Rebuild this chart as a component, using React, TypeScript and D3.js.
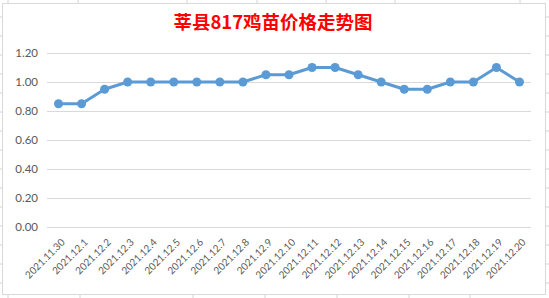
import React from "react";
import * as d3 from "d3";

const categories = [
  "2021.11.30", "2021.12.1", "2021.12.2", "2021.12.3", "2021.12.4", "2021.12.5", "2021.12.6",
  "2021.12.7", "2021.12.8", "2021.12.9", "2021.12.10", "2021.12.11", "2021.12.12", "2021.12.13",
  "2021.12.14", "2021.12.15", "2021.12.16", "2021.12.17", "2021.12.18", "2021.12.19", "2021.12.20",
];
const prices = [
  0.85, 0.85, 0.95, 1.0, 1.0, 1.0, 1.0, 1.0, 1.0, 1.05, 1.05, 1.1, 1.1, 1.05, 1.0, 0.95, 0.95,
  1.0, 1.0, 1.1, 1.0,
];
const yTicks = [0, 0.2, 0.4, 0.6, 0.8, 1.0, 1.2];
const title = "莘县817鸡苗价格走势图";

const W = 549;
const H = 298;
const plot = { left: 47, right: 531, top: 53, bottom: 227 };
const sheetRows = d3.range(17, 298, 19);
const sheetColsTop = [8, 78, 187, 257, 326, 395, 520];
const sheetColsBottom = [8, 80, 193, 265, 337, 409, 470];

export default function App() {
  const x = d3.scaleBand<string>().domain(categories).range([plot.left, plot.right]);
  const y = d3.scaleLinear().domain([0, 1.2]).range([plot.bottom, plot.top]);
  const line = d3
    .line<number>()
    .x((_, i) => (x(categories[i]) as number) + x.bandwidth() / 2)
    .y((d) => y(d));
  const numFont = "Lato, 'Liberation Sans', sans-serif";
  return (
    <svg
      width={W}
      height={H}
      style={{ position: "absolute", left: 0, top: 0, background: "#fff" }}
    >
      {sheetRows.map((r) => (
        <g key={"r" + r}>
          <line x1={0} x2={2} y1={r} y2={r} stroke="#d4d4d4" />
          <line x1={546} x2={549} y1={r} y2={r} stroke="#d4d4d4" />
        </g>
      ))}
      {sheetColsTop.map((c) => (
        <line key={"ct" + c} x1={c} x2={c} y1={0} y2={3} stroke="#d4d4d4" />
      ))}
      {sheetColsBottom.map((c) => (
        <line key={"cb" + c} x1={c} x2={c} y1={295} y2={298} stroke="#d4d4d4" />
      ))}
      <rect x={2.5} y={3.5} width={543} height={291} fill="#fff" stroke="#d9d9d9" />
      <text
        x={273}
        y={29}
        textAnchor="middle"
        fill="#ff0000"
        fontWeight="bold"
        fontSize={18.5}
        fontFamily="'Noto Sans CJK SC', sans-serif"
      >
        {title}
      </text>
      {yTicks.map((t) => (
        <g key={t}>
          <line
            x1={plot.left}
            x2={plot.right}
            y1={Math.round(y(t)) + 0.5}
            y2={Math.round(y(t)) + 0.5}
            stroke="#d9d9d9"
          />
          <text
            x={38}
            y={y(t) + 4}
            textAnchor="end"
            fontSize={11.5}
            fill="#595959"
            fontFamily={numFont}
          >
            {t.toFixed(2)}
          </text>
        </g>
      ))}
      {categories.map((c) => {
        const cx = (x(c) as number) + x.bandwidth() / 2 + 7;
        const cy = plot.bottom + 16;
        return (
          <text
            key={c}
            transform={`translate(${cx},${cy}) rotate(-45)`}
            textAnchor="end"
            fontSize={10}
            fill="#595959"
            fontFamily={numFont}
          >
            {c}
          </text>
        );
      })}
      <path d={line(prices) || ""} fill="none" stroke="#5b9bd5" strokeWidth={3} strokeLinejoin="round" />
      {prices.map((p, i) => (
        <circle
          key={i}
          cx={(x(categories[i]) as number) + x.bandwidth() / 2}
          cy={y(p)}
          r={4.5}
          fill="#5b9bd5"
        />
      ))}
    </svg>
  );
}
